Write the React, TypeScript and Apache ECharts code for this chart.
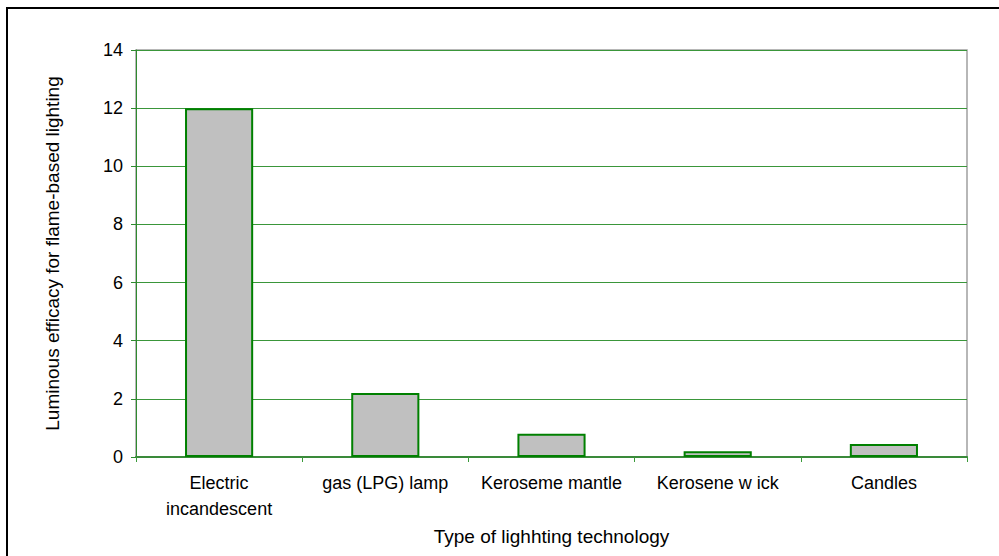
import React, { useEffect, useRef } from "react";
import * as echarts from "echarts";

const categories = ["Electric\nincandescent", "gas (LPG) lamp", "Keroseme mantle", "Kerosene w ick", "Candles"];
const values = [12, 2.2, 0.8, 0.2, 0.45];
const yTicks = { min: 0, max: 14, interval: 2 };
const xAxisTitle = "Type of lighhting technology";
const yAxisTitle = "Luminous efficacy for flame-based lighting";

export default function App() {
  const ref = useRef<HTMLDivElement>(null);
  useEffect(() => {
    if (!ref.current) return;
    const chart = echarts.init(ref.current, null, { renderer: "svg" });
    const font = "Liberation Sans, Arial, sans-serif";
    chart.setOption({
      animation: false,
      backgroundColor: "#ffffff",
      textStyle: { fontFamily: font },
      grid: {
        left: 136,
        right: 32,
        top: 50,
        bottom: 99,
        show: true,
        borderColor: "#a0a0a0",
        borderWidth: 1.5,
      },
      graphic: [
        {
          type: "rect",
          shape: { x: 7, y: 8, width: 1200, height: 800 },
          style: { fill: "none", stroke: "#000000", lineWidth: 2 },
          z: 100,
        },
      ],
      xAxis: {
        type: "category",
        data: categories,
        name: xAxisTitle,
        nameLocation: "middle",
        nameGap: 70,
        nameTextStyle: { fontSize: 19, color: "#000", fontFamily: font },
        axisLine: { lineStyle: { color: "#3a8a3a", width: 2 } },
        axisTick: { show: true, length: 5, lineStyle: { color: "#3a9a3a", width: 1 } },
        axisLabel: {
          fontSize: 18,
          color: "#000",
          fontFamily: font,
          lineHeight: 26,
          margin: 13,
          interval: 0,
        },
        splitLine: { show: false },
      },
      yAxis: {
        type: "value",
        min: yTicks.min,
        max: yTicks.max,
        interval: yTicks.interval,
        name: yAxisTitle,
        nameLocation: "middle",
        nameGap: 74,
        nameRotate: 90,
        nameTextStyle: { fontSize: 19, color: "#000", fontFamily: font },
        axisLine: { show: true, lineStyle: { color: "#2e8b2e", width: 1 } },
        axisTick: { show: true, length: 5, lineStyle: { color: "#2e8b2e", width: 1 } },
        axisLabel: { fontSize: 18, color: "#000", fontFamily: font, margin: 13 },
        splitLine: { show: true, lineStyle: { color: "#3a963a", width: 1 } },
      },
      series: [
        {
          type: "bar",
          data: values,
          barWidth: "41%",
          itemStyle: { color: "#c0c0c0", borderColor: "#008000", borderWidth: 2 },
        },
      ],
    });
    return () => chart.dispose();
  }, []);
  return (
    <div
      ref={ref}
      style={{ position: "absolute", left: 0, top: 0, width: 999, height: 556 }}
    />
  );
}
